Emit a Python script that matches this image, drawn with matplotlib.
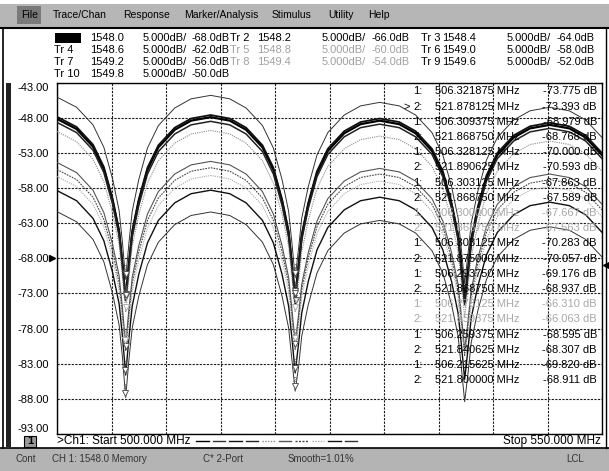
import matplotlib
matplotlib.use("Agg")
import matplotlib.pyplot as plt
from matplotlib.patches import Rectangle

plt.rcParams['font.family'] = ['Liberation Sans', 'DejaVu Sans']

W, H = 609, 471

# ---------------- data (displayed dB on the Tr 1 scale) ----------------
freqs = [500.0, 501.8, 503.3, 504.3, 505.1, 505.7, 506.0, 506.3, 506.6, 506.9,
         507.5, 508.3, 509.3, 510.8, 512.3, 514.1, 515.85, 517.35, 518.85, 519.85,
         520.65, 521.25, 521.55, 521.85, 522.15, 522.45, 523.05, 523.85, 524.85, 526.35,
         527.85, 529.6, 531.4, 532.9, 534.4, 535.4, 536.2, 536.8, 537.1, 537.4,
         537.7, 538.0, 538.6, 539.4, 540.4, 541.9, 543.4, 545.2, 547.0, 548.5, 550.0]

tr1 = [-48.15, -49.6, -52.1, -55.3, -59.8, -64.3, -68.8, -73.78, -68.9, -64.4,
       -59.9, -55.4, -52.2, -49.7, -48.4, -47.9, -48.4, -49.7, -52.2, -55.4,
       -59.9, -64.4, -68.9, -73.39, -69.4, -64.9, -60.4, -55.9, -52.7, -50.2,
       -48.9, -48.4, -48.9, -50.2, -52.7, -55.9, -60.4, -64.9, -69.4, -74.2,
       -70.0, -65.5, -61.0, -56.5, -53.3, -50.8, -49.5, -49.0, -49.5, -50.8, -53.3]
tr2 = [-45.05, -46.5, -49.0, -52.2, -56.7, -61.2, -65.7, -70.98, -65.8, -61.3,
       -56.8, -52.3, -49.1, -46.6, -45.3, -44.8, -45.3, -46.6, -49.1, -52.3,
       -56.8, -61.3, -65.8, -70.77, -66.8, -62.3, -57.8, -53.3, -50.1, -47.6,
       -46.3, -45.8, -46.3, -47.6, -50.1, -53.3, -57.8, -62.3, -66.8, -71.6,
       -67.5, -63.0, -58.5, -54.0, -50.8, -48.3, -47.0, -46.5, -47.0, -48.3, -50.8]
tr3 = [-47.85, -49.3, -51.8, -55.0, -59.5, -64.0, -68.5, -74.0, -68.6, -64.1,
       -59.6, -55.1, -51.9, -49.4, -48.1, -47.6, -48.1, -49.4, -51.9, -55.1,
       -59.6, -64.1, -68.6, -74.59, -69.1, -64.6, -60.1, -55.6, -52.4, -49.9,
       -48.6, -48.1, -48.6, -49.9, -52.4, -55.6, -60.1, -64.6, -69.1, -74.0,
       -69.7, -65.2, -60.7, -56.2, -53.0, -50.5, -49.2, -48.7, -49.2, -50.5, -53.0]
tr4 = [-48.65, -50.1, -52.6, -55.8, -60.3, -64.8, -69.3, -73.86, -69.5, -65.0,
       -60.5, -56.0, -52.8, -50.3, -49.0, -48.5, -49.0, -50.3, -52.8, -56.0,
       -60.5, -65.0, -69.5, -73.59, -69.9, -65.4, -60.9, -56.4, -53.2, -50.7,
       -49.4, -48.9, -49.4, -50.7, -53.2, -56.4, -60.9, -65.4, -69.9, -74.6,
       -70.5, -66.0, -61.5, -57.0, -53.8, -51.3, -50.0, -49.5, -50.0, -51.3, -53.8]
tr5 = [-49.95, -51.4, -53.9, -57.1, -61.6, -66.1, -70.6, -75.67, -70.8, -66.3,
       -61.8, -57.3, -54.1, -51.6, -50.3, -49.8, -50.3, -51.6, -54.1, -57.3,
       -61.8, -66.3, -70.8, -75.56, -71.6, -67.1, -62.6, -58.1, -54.9, -52.4,
       -51.1, -50.6, -51.1, -52.4, -54.9, -58.1, -62.6, -67.1, -71.6, -76.4,
       -72.3, -67.8, -63.3, -58.8, -55.6, -53.1, -51.8, -51.3, -51.8, -53.1, -55.6]
tr6 = [-54.35, -55.8, -58.3, -61.5, -66.0, -70.5, -75.0, -80.28, -75.2, -70.7,
       -66.2, -61.7, -58.5, -56.0, -54.7, -54.2, -54.7, -56.0, -58.5, -61.7,
       -66.2, -70.7, -75.2, -80.06, -76.2, -71.7, -67.2, -62.7, -59.5, -57.0,
       -55.7, -55.2, -55.7, -57.0, -59.5, -62.7, -67.2, -71.7, -76.2, -81.0,
       -77.0, -72.5, -68.0, -63.5, -60.3, -57.8, -56.5, -56.0, -56.5, -57.8, -60.3]
tr7 = [-55.35, -56.8, -59.3, -62.5, -67.0, -71.5, -76.0, -81.18, -76.1, -71.6,
       -67.1, -62.6, -59.4, -56.9, -55.6, -55.1, -55.6, -56.9, -59.4, -62.6,
       -67.1, -71.6, -76.1, -80.94, -77.0, -72.5, -68.0, -63.5, -60.3, -57.8,
       -56.5, -56.0, -56.5, -57.8, -60.3, -63.5, -68.0, -72.5, -77.0, -81.8,
       -77.8, -73.3, -68.8, -64.3, -61.1, -58.6, -57.3, -56.8, -57.3, -58.6, -61.1]
tr8 = [-56.35, -57.8, -60.3, -63.5, -68.0, -72.5, -77.0, -80.31, -77.2, -72.7,
       -68.2, -63.7, -60.5, -58.0, -56.7, -56.2, -56.7, -58.0, -60.5, -63.7,
       -68.2, -72.7, -77.2, -80.06, -78.0, -73.5, -69.0, -64.5, -61.3, -58.8,
       -57.5, -57.0, -57.5, -58.8, -61.3, -64.5, -69.0, -73.5, -78.0, -81.0,
       -78.8, -74.3, -69.8, -65.3, -62.1, -59.6, -58.3, -57.8, -58.3, -59.6, -62.1]
tr9 = [-58.35, -59.8, -62.3, -65.5, -70.0, -74.5, -79.0, -84.6, -79.3, -74.8,
       -70.3, -65.8, -62.6, -60.1, -58.8, -58.3, -58.8, -60.1, -62.6, -65.8,
       -70.3, -74.8, -79.3, -84.31, -80.3, -75.8, -71.3, -66.8, -63.6, -61.1,
       -59.8, -59.3, -59.8, -61.1, -63.6, -66.8, -71.3, -75.8, -80.3, -85.2,
       -81.0, -76.5, -72.0, -67.5, -64.3, -61.8, -60.5, -60.0, -60.5, -61.8, -64.3]
tr10 = [-61.35, -62.8, -65.3, -68.5, -73.0, -77.5, -82.0, -87.82, -82.4, -77.9,
        -73.4, -68.9, -65.7, -63.2, -61.9, -61.4, -61.9, -63.2, -65.7, -68.9,
        -73.4, -77.9, -82.4, -86.91, -83.6, -79.1, -74.6, -70.1, -66.9, -64.4,
        -63.1, -62.6, -63.1, -64.4, -66.9, -70.1, -74.6, -79.1, -83.6, -88.4,
        -84.5, -80.0, -75.5, -71.0, -67.8, -65.3, -64.0, -63.5, -64.0, -65.3, -67.8]
traces = [tr1, tr2, tr3, tr4, tr5, tr6, tr7, tr8, tr9, tr10]

trace_names = ['Tr 1', 'Tr 2', 'Tr 3', 'Tr 4', 'Tr 5', 'Tr 6', 'Tr 7', 'Tr 8', 'Tr 9', 'Tr 10']
trace_wl = ['1548.0', '1548.2', '1548.4', '1548.6', '1548.8', '1549.0', '1549.2', '1549.4', '1549.6', '1549.8']
trace_scale = ['5.000dB/'] * 10
trace_ref = [-68.0, -66.0, -64.0, -62.0, -60.0, -58.0, -56.0, -54.0, -52.0, -50.0]
faint_traces = ['Tr 5', 'Tr 8']

m1_freq = [506.321875, 506.309375, 506.328125, 506.303125, 506.300000,
           506.303125, 506.293750, 506.278125, 506.259375, 506.215625]
m1_val = [-73.775, -68.979, -70.000, -67.863, -67.667,
          -70.283, -69.176, -66.310, -68.595, -69.820]
m2_freq = [521.878125, 521.868750, 521.890625, 521.868750, 521.868750,
           521.875000, 521.868750, 521.859375, 521.840625, 521.800000]
m2_val = [-73.393, -68.768, -70.593, -67.589, -67.563,
          -70.057, -68.937, -66.063, -68.307, -68.911]

y_ticks = [-43.0, -48.0, -53.0, -58.0, -63.0, -68.0, -73.0, -78.0, -83.0, -88.0, -93.0]
x_ticks = [500, 505, 510, 515, 520, 525, 530, 535, 540, 545, 550]
start_label = '>Ch1: Start 500.000 MHz'
stop_label = 'Stop 550.000 MHz'
menu_items = ['File', 'Trace/Chan', 'Response', 'Marker/Analysis', 'Stimulus', 'Utility', 'Help']
status_items = ['Cont', 'CH 1: 1548.0 Memory', 'C* 2-Port', 'Smooth=1.01%', 'LCL']

# ---------------- styles ----------------
styles = [
    dict(color='#000000', lw=1.6, ls='-'),
    dict(color='#333333', lw=0.7, ls='-'),
    dict(color='#111111', lw=1.3, ls='-'),
    dict(color='#222222', lw=1.1, ls='-'),
    dict(color='#8a8a8a', lw=0.8, ls=(0, (1, 1))),
    dict(color='#555555', lw=0.8, ls='-'),
    dict(color='#444444', lw=0.8, ls=(0, (1.5, 1))),
    dict(color='#a8a8a8', lw=0.8, ls=(0, (1, 1))),
    dict(color='#111111', lw=1.0, ls='-'),
    dict(color='#333333', lw=0.7, ls='-'),
]

fig = plt.figure(figsize=(W / 100, H / 100), dpi=100)
fig.patch.set_facecolor('white')

# background (pixel coordinates)
bg = fig.add_axes([0, 0, 1, 1], zorder=0)
bg.set_xlim(0, W)
bg.set_ylim(H, 0)
bg.axis('off')

# menu bar
bg.add_patch(Rectangle((0, 4), W, 23, facecolor='#b6b6b6', edgecolor='none'))
bg.add_patch(Rectangle((17, 6), 24, 18, facecolor='#7a7a7a', edgecolor='none'))
menu_x = [21, 53, 123, 184, 272, 328, 368]
for mx, item in zip(menu_x, menu_items):
    bg.text(mx, 15, item, fontsize=7.5, va='center', ha='left', color='#000000')
bg.plot([0, W], [28, 28], color='black', lw=1.5)
bg.plot([3, 3], [28, 448], color='black', lw=1.2)
bg.add_patch(Rectangle((6, 83), 5, 364, facecolor='#222222', edgecolor='none'))
bg.plot([606, 606], [28, 448], color='black', lw=1.0)

# trace header
groups = [(54, 90, 143, 192), (230, 257, 322, 372), (421, 442, 507, 557)]
row_y = [38, 50, 62, 74]
for i in range(10):
    r, c = divmod(i, 3)
    lx, wx, sx, rx = groups[c]
    col = '#a0a0a0' if trace_names[i] in faint_traces else '#000000'
    if i == 0:
        bg.add_patch(Rectangle((55, 33), 26, 10, facecolor='black', edgecolor='none'))
    else:
        bg.text(lx, row_y[r], trace_names[i], fontsize=8, va='center', ha='left', color=col)
    bg.text(wx, row_y[r], trace_wl[i], fontsize=8, va='center', ha='left', color=col)
    bg.text(sx, row_y[r], trace_scale[i], fontsize=8, va='center', ha='left', color=col)
    bg.text(rx, row_y[r], f'{trace_ref[i]:.1f}dB', fontsize=7.8, va='center', ha='left', color=col)

# channel line
bg.add_patch(Rectangle((24, 436), 12, 11, facecolor='#9a9a9a', edgecolor='black', lw=0.8))
bg.text(30, 441.5, '1', fontsize=8, fontweight='bold', ha='center', va='center')
bg.text(57, 441, start_label, fontsize=8.5, ha='left', va='center')
bg.text(601, 441, stop_label, fontsize=8.5, ha='right', va='center')
for i in range(10):
    x0 = 196 + i * 16.5
    bg.plot([x0, x0 + 12.5], [441, 441], color=styles[i]['color'], lw=1.0,
            ls=styles[i]['ls'])

# status bar
bg.add_patch(Rectangle((0, 448), W, 23, facecolor='#b4b4b4', edgecolor='none'))
bg.plot([0, W], [448, 448], color='black', lw=1.2)
status_x = [15, 52, 203, 288, 566]
for sx_, item in zip(status_x, status_items):
    bg.text(sx_, 459, item, fontsize=7, ha='left', va='center', color='#333333')

# ---------------- main plot ----------------
top_px, bot_px, left_px, right_px = 82.7, 434.0, 57.0, 602.0
ax = fig.add_axes([left_px / W, (H - bot_px) / H, (right_px - left_px) / W, (bot_px - top_px) / H],
                  zorder=1)
ax.set_facecolor('white')
ax.set_xlim(500, 550)
ax.set_ylim(-93, -43)
ax.set_xticks(x_ticks)
ax.set_xticklabels([])
ax.set_yticks(y_ticks)
ax.set_yticklabels([f'{v:.2f}' for v in y_ticks], fontsize=8)
ax.tick_params(length=0, pad=5.5)
labs = ax.get_yticklabels()
labs[0].set_verticalalignment('top')
labs[-1].set_verticalalignment('bottom')
ax.grid(True, color='#1a1a1a', lw=0.8, ls=(0, (2, 1.2)))
ax.set_axisbelow(True)
for sp in ax.spines.values():
    sp.set_color('black')
    sp.set_linewidth(1.0)

for i in range(10):
    st = styles[i]
    ax.plot(freqs, traces[i], color=st['color'], lw=st['lw'], ls=st['ls'], zorder=3)

# markers at the nulls (marker values shown on the Tr 1 scale)
for i in range(10):
    off = trace_ref[0] - trace_ref[i]
    mc = '#b0b0b0' if trace_names[i] in faint_traces else '#555555'
    for mf, mv, lab in ((m1_freq[i], m1_val[i], '1'), (m2_freq[i], m2_val[i], '2')):
        d = mv + off
        ax.plot([mf], [d + 0.7], marker='v', ms=4, mfc='white', mec=mc, mew=0.7,
                ls='none', zorder=4)
        ax.annotate(lab, (mf, d), xytext=(0, 5), textcoords='offset points',
                    ha='center', va='bottom', fontsize=5.5, color=mc, zorder=4)

ax.plot([499.55], [-68], marker='>', ms=5, color='black', clip_on=False, zorder=5)
ax.plot([550.4], [-69], marker='<', ms=5, color='black', clip_on=False, zorder=5)

# ---------------- marker table overlay ----------------
ov = fig.add_axes([0, 0, 1, 1], zorder=2)
ov.set_xlim(0, W)
ov.set_ylim(H, 0)
ov.axis('off')
ov.patch.set_alpha(0)
k = 0
for i in range(10):
    col = '#a8a8a8' if trace_names[i] in faint_traces else '#000000'
    for num, mf, mv in (('1:', m1_freq[i], m1_val[i]), ('2:', m2_freq[i], m2_val[i])):
        y = 91.5 + 15.2 * k
        if k == 1:
            ov.text(404, y, '>', fontsize=8, ha='left', va='center', color=col)
        ov.text(413, y, num, fontsize=8, ha='left', va='center', color=col)
        ov.text(435, y, f'{mf:.6f} MHz', fontsize=8, ha='left', va='center', color=col)
        ov.text(597, y, f'{mv:.3f} dB', fontsize=8, ha='right', va='center', color=col)
        k += 1

fig.savefig('out.png', dpi=100)
